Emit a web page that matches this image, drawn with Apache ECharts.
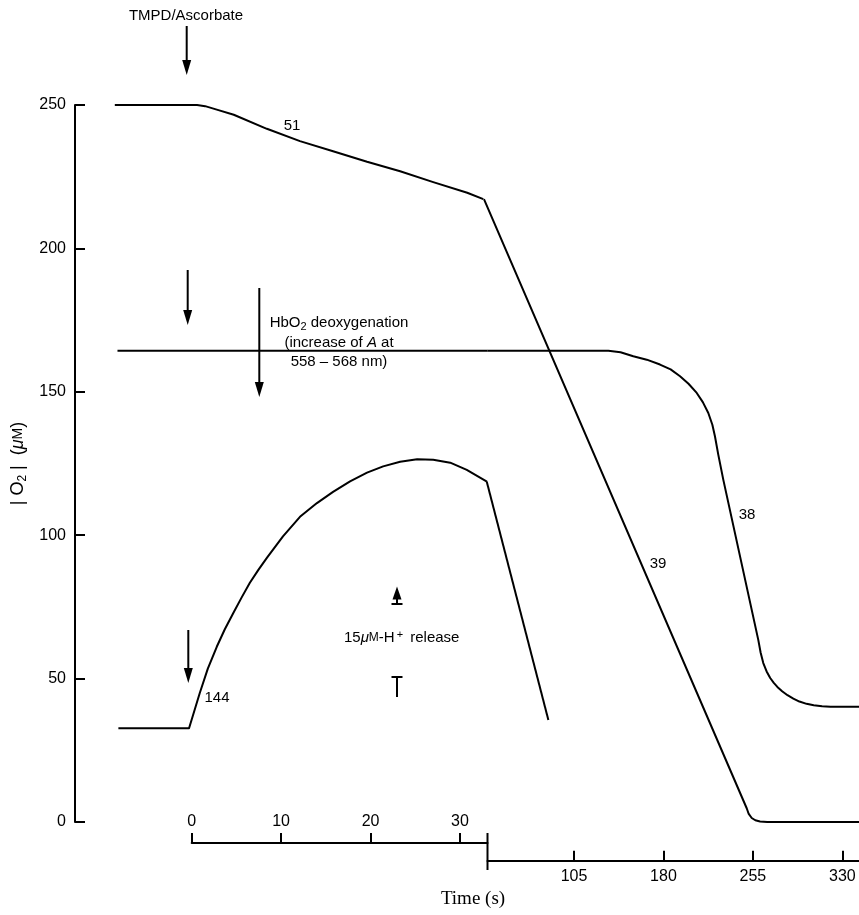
<!DOCTYPE html>
<html>
<head>
<meta charset="utf-8">
<script src="https://cdn.jsdelivr.net/npm/echarts@6/dist/echarts.min.js"></script>
<style>html,body{margin:0;padding:0;background:#fff}#c{width:859px;height:915px}</style>
</head>
<body>
<div id="c"></div>
<script>
// ---- data (O2 concentration in µM vs time in s) ----
const yTicks = [0, 50, 100, 150, 200, 250];
const fastTicks = [0, 10, 20, 30];          // fast chart-speed section (s)
const slowTicks = [105, 180, 255, 330];     // slow chart-speed section (s)

// trace "51" / "39": TMPD/ascorbate trace
const traceTopFast = [[-8.6,250],[0.6,250],[1.5,249.6],[2.8,248.4],[4.7,246.6],[8.4,241.7],[12.1,237.4],[15.8,233.9],[19.6,230.2],[23.3,226.9],[27.0,223.1],[30.8,219.4],[32.6,217.2]];
const traceTopSlow = [[29.5,217.2],[249.8,4.8],[251.5,2.8],[254,1.4],[257,0.6],[261,0.2],[267,0],[344,0]];

// trace "38": HbO2 deoxygenation trace
const traceHbFast = [[-8.3,164.3],[33.08,164.3]];
const traceHbSlow = [[32.47,164.3],[133.8,164.3],[144,163.8],[154.7,162.4],[166,161.2],[177.1,159.5],[186,157.8],[193.9,155.4],[201,152.8],[207.9,149.6],[213,146.4],[217.6,142.6],[221,138.5],[223.2,134.4],[226,128],[230.2,119.3],[259.5,63.5],[261.5,59],[263.7,55.4],[266.5,52.5],[269.5,50.2],[272.5,48.5],[275.5,47.1],[279.5,45.6],[284,44.2],[288.9,43.0],[294,42.0],[300,41.2],[306,40.7],[313,40.4],[320,40.2],[344,40.2]];

// trace "144": H+ release trace
const traceHFast = [[-8.2,32.7],[-0.3,32.7],[0.9,45.0],[1.8,53.5],[2.8,61.1],[3.7,67.2],[4.65,72.9],[5.6,78.4],[6.5,83.4],[7.45,87.9],[8.4,92.1],[10.2,99.6],[12.1,106.4],[14.0,111.2],[15.8,115.1],[17.7,118.8],[19.6,121.8],[21.4,124.0],[23.3,125.6],[25.2,126.5],[27.0,126.3],[28.9,125.3],[30.75,122.8],[33.0,118.7]];
const traceHSlow = [[31.8,118.7],[83.5,35.6]];

const FONT = 'Liberation Sans, Arial, sans-serif';
const black = '#000';

function lineSeries(data, axisIdx) {
  return {
    type: 'line', xAxisIndex: axisIdx, yAxisIndex: axisIdx, data: data,
    showSymbol: false, symbol: 'none', smooth: false,
    clip: false, silent: true,
    lineStyle: { color: black, width: 2, join: 'round' }
  };
}

function arrowDown(x, y1, y2) {
  return { type: 'group', children: [
    { type: 'line', shape: { x1: x, y1: y1, x2: x, y2: y2 - 10 }, style: { stroke: black, lineWidth: 2 } },
    { type: 'polygon', shape: { points: [[x - 4.5, y2 - 15], [x + 4.5, y2 - 15], [x, y2]] }, style: { fill: black } }
  ]};
}
function txt(x, y, text, size, extra) {
  return Object.assign({ type: 'text', x: x, y: y, style: Object.assign({
    text: text, fill: black, font: size + 'px ' + FONT, align: 'center', verticalAlign: 'middle'
  }, extra || {}) });
}

const chart = echarts.init(document.getElementById('c'), null, { renderer: 'canvas' });
const axisFont = { color: black, fontFamily: FONT, fontSize: 16 };

const option = {
  animation: false,
  backgroundColor: '#fff',
  grid: [
    { left: 75, right: 0, top: 105, bottom: 93 },
    { left: 75, right: 0, top: 105, bottom: 93 },
    { left: 191.7, right: 371.5, top: 780, bottom: 72 },
    { left: 487.5, right: 0, top: 780, bottom: 54.3 }
  ],
  xAxis: [
    { gridIndex: 0, type: 'value', min: -13.05, max: 74.6, show: false },
    { gridIndex: 1, type: 'value', min: -313.4, max: 343.95, show: false },
    { gridIndex: 2, type: 'value', min: 0, max: 33.08,
      axisLine: { show: true, onZero: false, lineStyle: { color: black, width: 2 } },
      axisTick: { show: true, inside: true, length: 10, customValues: fastTicks, lineStyle: { color: black, width: 2 } },
      axisLabel: Object.assign({ inside: true, margin: 13, customValues: fastTicks }, axisFont),
      splitLine: { show: false } },
    { gridIndex: 3, type: 'value', min: 32.47, max: 343.95,
      axisLine: { show: true, onZero: false, lineStyle: { color: black, width: 2 } },
      axisTick: { show: true, inside: true, length: 10, customValues: slowTicks, lineStyle: { color: black, width: 2 } },
      axisLabel: Object.assign({ inside: false, margin: 8, customValues: slowTicks }, axisFont),
      splitLine: { show: false } }
  ],
  yAxis: [
    { gridIndex: 0, type: 'value', min: 0, max: 250, interval: 50,
      axisLine: { show: true, onZero: false, lineStyle: { color: black, width: 2 } },
      axisTick: { show: true, inside: true, length: 10, customValues: yTicks, lineStyle: { color: black, width: 2 } },
      axisLabel: Object.assign({ margin: 9, customValues: yTicks }, axisFont),
      splitLine: { show: false },
      name: '| O{sub|2} |  ({mu|\u03bc}{sc|M})', nameLocation: 'middle', nameGap: 46, nameRotate: 90,
      nameTextStyle: { color: black, fontFamily: FONT, fontSize: 18,
        rich: { sub: { fontSize: 12, padding: [8,0,0,0], fontFamily: FONT, color: black },
                mu: { fontSize: 18, fontStyle: 'italic', fontFamily: FONT, color: black },
                sc: { fontSize: 14, fontFamily: FONT, color: black } } } },
    { gridIndex: 1, type: 'value', min: 0, max: 250, show: false },
    { gridIndex: 2, type: 'value', min: 0, max: 1, show: false },
    { gridIndex: 3, type: 'value', min: 0, max: 1, show: false }
  ],
  series: [
    lineSeries(traceTopFast, 0),
    lineSeries(traceTopSlow, 1),
    lineSeries(traceHbFast, 0),
    lineSeries(traceHbSlow, 1),
    lineSeries(traceHFast, 0),
    lineSeries(traceHSlow, 1)
  ],
  graphic: [
    // axis break connector
    { type: 'line', shape: { x1: 487.5, y1: 833, x2: 487.5, y2: 870 }, style: { stroke: black, lineWidth: 2 } },
    txt(473, 899, 'Time (s)', 19, { font: '19px Liberation Serif, Times New Roman, serif' }),
    // annotations
    txt(186, 16, 'TMPD/Ascorbate', 15),
    arrowDown(186.7, 26, 75),
    arrowDown(187.7, 270, 325),
    arrowDown(259.3, 288, 397),
    arrowDown(188.3, 630, 683),
    { type: 'text', x: 339, y: 323, style: { text: 'HbO{sub|2} deoxygenation', fill: black, font: '15px ' + FONT, align: 'center', verticalAlign: 'middle',
        rich: { sub: { fontSize: 11, fontFamily: FONT, fill: black, padding: [7,0,0,0] } } } },
    { type: 'text', x: 339, y: 342.5, style: { text: '(increase of {i|A} at', fill: black, font: '15px ' + FONT, align: 'center', verticalAlign: 'middle',
        rich: { i: { fontStyle: 'italic', fontSize: 15, fontFamily: FONT, fill: black } } } },
    txt(339, 361.5, '558 \u2013 568 nm)', 15),
    txt(292, 126, '51', 15),
    txt(658, 564, '39', 15),
    txt(747, 515, '38', 15),
    txt(217, 698, '144', 15),
    { type: 'text', x: 401.7, y: 638, style: { text: '15{mu|\u03bc}{sc|M}-H{sup|+} release', fill: black, font: '15px ' + FONT, align: 'center', verticalAlign: 'middle',
        rich: { mu: { fontStyle: 'italic', fontSize: 15, fontFamily: FONT, fill: black }, sc: { fontSize: 12, fontFamily: FONT, fill: black },
                sup: { fontSize: 11, fontFamily: FONT, fill: black, padding: [0,3,7,2] } } } },
    // H+ scale marker
    { type: 'polygon', shape: { points: [[392.5, 599.5], [401.5, 599.5], [397, 586.5]] }, style: { fill: black } },
    { type: 'line', shape: { x1: 397, y1: 599, x2: 397, y2: 604 }, style: { stroke: black, lineWidth: 2 } },
    { type: 'line', shape: { x1: 391.5, y1: 604, x2: 402.5, y2: 604 }, style: { stroke: black, lineWidth: 2 } },
    { type: 'line', shape: { x1: 391.5, y1: 677, x2: 402.5, y2: 677 }, style: { stroke: black, lineWidth: 2 } },
    { type: 'line', shape: { x1: 397, y1: 677, x2: 397, y2: 697 }, style: { stroke: black, lineWidth: 2 } }
  ]
};
chart.setOption(option);
</script>
</body>
</html>
